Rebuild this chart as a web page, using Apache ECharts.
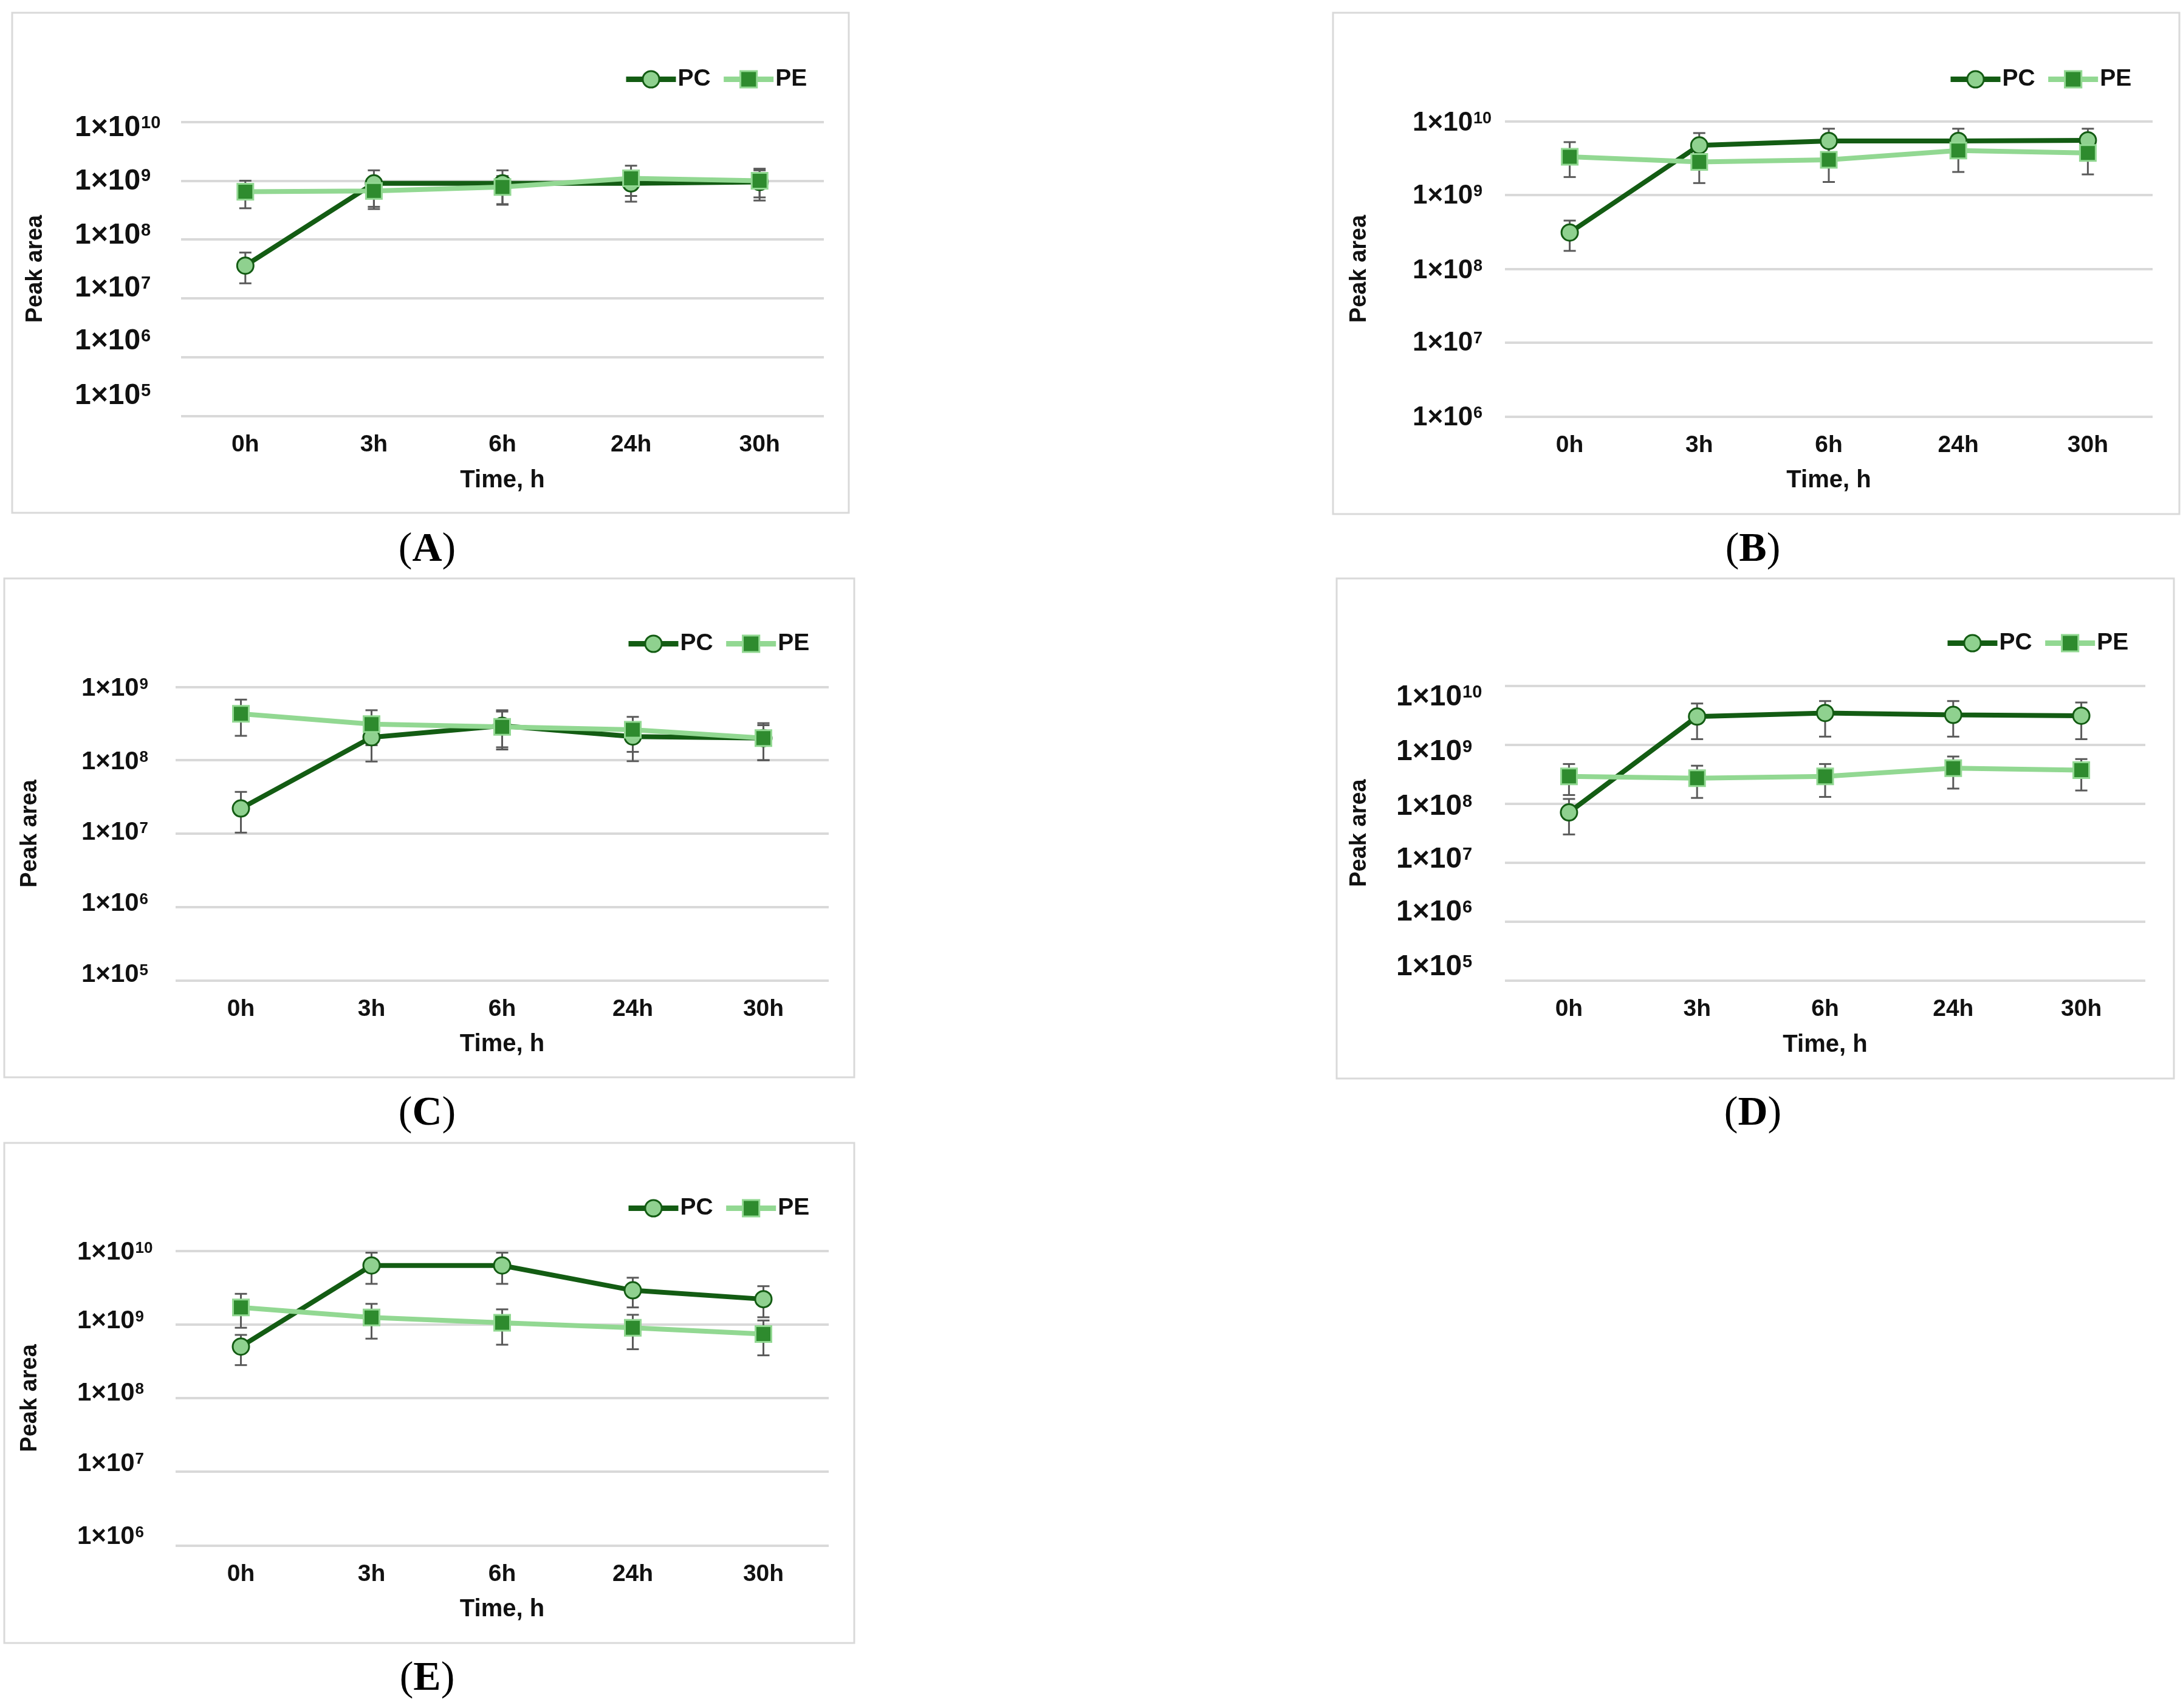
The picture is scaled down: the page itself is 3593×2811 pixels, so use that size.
<!DOCTYPE html>
<html>
<head>
<meta charset="utf-8">
<script src="https://cdn.jsdelivr.net/npm/echarts@6/dist/echarts.min.js"></script>
<style>
html,body{margin:0;padding:0;background:#fff;}
#chart{width:3593px;height:2811px;}
</style>
</head>
<body>
<div id="chart"></div>
<script>
// ---------------- DATA ----------------
const categories = ['0h', '3h', '6h', '24h', '30h'];
const seriesNames = ['PC', 'PE'];
const panelLetters = ['A', 'B', 'C', 'D', 'E'];

// Panel A
const yRangeA = [1e5, 1e10];
const pcA = [3.6e7, 9.0e8, 9.0e8, 9.0e8, 9.5e8];
const pcALow = [1.8e7, 3.6e8, 4.0e8, 4.4e8, 4.6e8];
const pcAHigh = [6.0e7, 1.5e9, 1.5e9, 1.4e9, 1.5e9];
const peA = [6.5e8, 6.7e8, 7.8e8, 1.1e9, 1.0e9];
const peALow = [3.4e8, 3.3e8, 3.9e8, 5.5e8, 5.2e8];
const peAHigh = [1.0e9, 1.0e9, 1.2e9, 1.8e9, 1.6e9];

// Panel B
const yRangeB = [1e6, 1e10];
const pcB = [3.1e8, 4.7e9, 5.4e9, 5.4e9, 5.5e9];
const pcBLow = [1.75e8, 3.2e9, 3.7e9, 3.7e9, 3.8e9];
const pcBHigh = [4.5e8, 6.9e9, 7.9e9, 7.9e9, 7.9e9];
const peB = [3.3e9, 2.8e9, 3.0e9, 4.0e9, 3.7e9];
const peBLow = [1.75e9, 1.45e9, 1.5e9, 2.05e9, 1.9e9];
const peBHigh = [5.2e9, 4.3e9, 4.5e9, 5.8e9, 5.5e9];

// Panel C
const yRangeC = [1e5, 1e9];
const pcC = [2.2e7, 2.05e8, 2.95e8, 2.1e8, 2.0e8];
const pcCLow = [1.03e7, 9.6e7, 1.4e8, 9.7e7, 1.0e8];
const pcCHigh = [3.7e7, 3.3e8, 4.8e8, 3.3e8, 3.0e8];
const peC = [4.3e8, 3.1e8, 2.85e8, 2.6e8, 2.0e8];
const peCLow = [2.15e8, 1.6e8, 1.5e8, 1.3e8, 1.0e8];
const peCHigh = [6.7e8, 4.8e8, 4.6e8, 3.9e8, 3.2e8];

// Panel D
const yRangeD = [1e5, 1e10];
const pcD = [7.1e7, 3.0e9, 3.45e9, 3.2e9, 3.1e9];
const pcDLow = [3.0e7, 1.24e9, 1.37e9, 1.37e9, 1.24e9];
const pcDHigh = [1.2e8, 5.0e9, 5.5e9, 5.5e9, 5.2e9];
const peD = [2.9e8, 2.7e8, 2.9e8, 4.0e8, 3.7e8];
const peDLow = [1.4e8, 1.25e8, 1.3e8, 1.8e8, 1.67e8];
const peDHigh = [4.7e8, 4.4e8, 4.7e8, 6.3e8, 5.7e8];

// Panel E
const yRangeE = [1e6, 1e10];
const pcE = [5.0e8, 6.3e9, 6.3e9, 2.9e9, 2.2e9];
const pcELow = [2.8e8, 3.55e9, 3.55e9, 1.7e9, 1.25e9];
const pcEHigh = [7.2e8, 9.4e9, 9.4e9, 4.3e9, 3.3e9];
const peE = [1.7e9, 1.24e9, 1.05e9, 9.0e8, 7.4e8];
const peELow = [9.0e8, 6.4e8, 5.3e8, 4.6e8, 3.8e8];
const peEHigh = [2.6e9, 1.9e9, 1.6e9, 1.35e9, 1.13e9];

const panelData = [
  {range: yRangeA, pc: [pcA, pcALow, pcAHigh], pe: [peA, peALow, peAHigh]},
  {range: yRangeB, pc: [pcB, pcBLow, pcBHigh], pe: [peB, peBLow, peBHigh]},
  {range: yRangeC, pc: [pcC, pcCLow, pcCHigh], pe: [peC, peCLow, peCHigh]},
  {range: yRangeD, pc: [pcD, pcDLow, pcDHigh], pe: [peD, peDLow, peDHigh]},
  {range: yRangeE, pc: [pcE, pcELow, pcEHigh], pe: [peE, peELow, peEHigh]}
];

// ---------------- LAYOUT / STYLE ----------------
const layout = [
  {box: [20, 21, 1397, 844], grid: {left: 298, top: 200.6, width: 1058, height: 484}, legend: [1021, 126], label: [703, 905], fm: 48, fs: 29, margin: 175, offsets: {10: 10, 9: 1, 8: -6, 7: -16, 6: -26, 5: -33}},
  {box: [2194, 21, 3587, 846], grid: {left: 2477, top: 199.4, width: 1066, height: 486}, legend: [3201, 126], label: [2885, 905], fm: 44, fs: 27, margin: 152, offsets: {10: 3, 9: 2, 8: 3, 7: 1, 6: 2}},
  {box: [7, 952, 1406, 1773], grid: {left: 289, top: 1130.4, width: 1075, height: 483}, legend: [1025, 1055], label: [703, 1833], fm: 42, fs: 26, margin: 155, offsets: {9: 3, 8: 3, 7: -1, 6: -5, 5: -9}},
  {box: [2200, 952, 3578, 1775], grid: {left: 2477, top: 1128.6, width: 1054, height: 485}, legend: [3196, 1054], label: [2885, 1833], fm: 48, fs: 29, margin: 179, offsets: {10: 19, 9: 12, 8: 5, 7: -5, 6: -15, 5: -22}},
  {box: [7, 1881, 1406, 2704], grid: {left: 289, top: 2058.4, width: 1075, height: 485}, legend: [1025, 1984], label: [703, 2763], fm: 42, fs: 26, margin: 162, offsets: {10: 3, 9: -5, 8: -7, 7: -13, 6: -14}}
];

const FONT = '"Liberation Sans", Arial, sans-serif';
const SERIF = '"Liberation Serif", "Times New Roman", serif';
const PC_LINE = '#135c13';
const PC_FILL = '#8fd18f';
const PE_LINE = '#92d892';
const PE_FILL = '#2e8b2e';
const ERR = '#5a5a5a';
const GRIDC = '#d9d9d9';

// Rich styles: every token is middle-aligned, so a token's text centre moves by
// (padTop - padBottom) / 2 relative to the tick. Small token heights keep the
// label boxes from overlapping each other.
function makeRich(fm, fs, offsets) {
  const rich = {};
  const raise = 2 * Math.round(0.36 * (fm - fs) + 1);
  Object.keys(offsets).forEach(function (e) {
    const d = offsets[e];
    const top = d >= 0 ? 2 * d : 0;
    const bot = d < 0 ? -2 * d : 0;
    rich['b' + e] = {fontSize: fm, fontWeight: 'bold', fontFamily: FONT, color: '#111', height: 8, lineHeight: 8, padding: [top, 0, bot, 0], verticalAlign: 'middle'};
    rich['s' + e] = {fontSize: fs, fontWeight: 'bold', fontFamily: FONT, color: '#111', height: 8, lineHeight: 8, padding: [top, 0, bot + raise, 1], verticalAlign: 'middle'};
  });
  return rich;
}

function errorSeries(idx, low, high) {
  return {
    type: 'custom',
    xAxisIndex: idx, yAxisIndex: idx,
    silent: true, z: 2,
    encode: {x: 0, y: [1, 2]},
    data: categories.map(function (c, j) { return [j, low[j], high[j]]; }),
    renderItem: function (params, api) {
      const x = api.value(0);
      const lo = api.coord([x, api.value(1)]);
      const hi = api.coord([x, api.value(2)]);
      const hw = 10;
      const st = {stroke: ERR, lineWidth: 3};
      return {type: 'group', children: [
        {type: 'line', shape: {x1: lo[0], y1: lo[1], x2: hi[0], y2: hi[1]}, style: st},
        {type: 'line', shape: {x1: lo[0] - hw, y1: lo[1], x2: lo[0] + hw, y2: lo[1]}, style: st},
        {type: 'line', shape: {x1: hi[0] - hw, y1: hi[1], x2: hi[0] + hw, y2: hi[1]}, style: st}
      ]};
    }
  };
}

const grids = [], xAxes = [], yAxes = [], series = [], legends = [], graphics = [];

layout.forEach(function (L, i) {
  const D = panelData[i];
  grids.push(Object.assign({containLabel: false}, L.grid));
  xAxes.push({
    type: 'category', gridIndex: i, data: categories, boundaryGap: true,
    axisLine: {show: false}, axisTick: {show: false}, splitLine: {show: false},
    axisLabel: {fontSize: 39, fontWeight: 'bold', fontFamily: FONT, color: '#111', margin: 28},
    name: 'Time, h', nameLocation: 'middle', nameGap: 86,
    nameTextStyle: {fontSize: 40, fontWeight: 'bold', fontFamily: FONT, color: '#111'}
  });
  yAxes.push({
    type: 'log', logBase: 10, gridIndex: i, min: D.range[0], max: D.range[1],
    axisLine: {show: false}, axisTick: {show: false},
    splitLine: {show: true, lineStyle: {color: GRIDC, width: 4}},
    axisLabel: {
      align: 'left', margin: L.margin, showMinLabel: true, showMaxLabel: true, hideOverlap: false,
      formatter: function (v) {
        const e = Math.round(Math.log10(v));
        return '{b' + e + '|1×10}{s' + e + '|' + e + '}';
      },
      rich: makeRich(L.fm, L.fs, L.offsets)
    },
    name: 'Peak area', nameLocation: 'middle', nameGap: 220, nameRotate: 90,
    nameTextStyle: {fontSize: 38, fontWeight: 'bold', fontFamily: FONT, color: '#111'}
  });
  series.push(errorSeries(i, D.pc[1], D.pc[2]));
  series.push(errorSeries(i, D.pe[1], D.pe[2]));
  series.push({
    name: 'PC', type: 'line', xAxisIndex: i, yAxisIndex: i, data: D.pc[0], z: 3,
    symbol: 'circle', symbolSize: 27,
    lineStyle: {color: PC_LINE, width: 8},
    itemStyle: {color: PC_FILL, borderColor: PC_LINE, borderWidth: 3},
    emphasis: {disabled: true}
  });
  series.push({
    name: 'PE', type: 'line', xAxisIndex: i, yAxisIndex: i, data: D.pe[0], z: 4,
    symbol: 'rect', symbolSize: 26,
    lineStyle: {color: PE_LINE, width: 8},
    itemStyle: {color: PE_FILL, borderColor: PE_LINE, borderWidth: 3},
    emphasis: {disabled: true}
  });
  legends.push({
    data: seriesNames, left: L.legend[0], top: L.legend[1] - 20, orient: 'horizontal',
    itemWidth: 82, itemHeight: 34, itemGap: 17, selectedMode: false,
    lineStyle: {width: 9},
    itemStyle: {borderWidth: 3},
    textStyle: {fontSize: 39, fontWeight: 'bold', fontFamily: FONT, color: '#111', padding: [0, 0, 0, -2]}
  });
  graphics.push({
    type: 'rect', silent: true, z: -1,
    shape: {x: L.box[0], y: L.box[1], width: L.box[2] - L.box[0], height: L.box[3] - L.box[1]},
    style: {fill: 'none', stroke: GRIDC, lineWidth: 3}
  });
  graphics.push({
    type: 'text', silent: true,
    x: L.label[0], y: L.label[1],
    style: {
      text: '{p|(}{b|' + panelLetters[i] + '}{p|)}',
      textAlign: 'center', textVerticalAlign: 'middle',
      rich: {
        p: {fontSize: 68, fontFamily: SERIF, fill: '#000', color: '#000'},
        b: {fontSize: 68, fontFamily: SERIF, fontWeight: 'bold', fill: '#000', color: '#000'}
      }
    }
  });
});

const chart = echarts.init(document.getElementById('chart'), null, {renderer: 'canvas'});
chart.setOption({
  backgroundColor: '#ffffff',
  animation: false,
  grid: grids,
  xAxis: xAxes,
  yAxis: yAxes,
  legend: legends,
  series: series,
  graphic: graphics
});
</script>
</body>
</html>
